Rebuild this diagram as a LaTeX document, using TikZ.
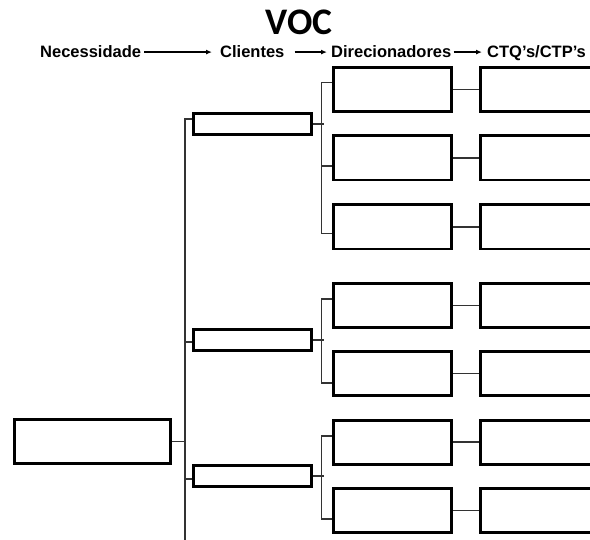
\documentclass[tikz,border=0pt]{standalone}
\usepackage{fontspec}
\setmainfont{Liberation Sans}
\newfontfamily\titlefont{Carlito}
\usetikzlibrary{arrows.meta,positioning,calc}

\begin{document}
\begin{tikzpicture}[x=1pt,y=-1pt,
    caixa/.style={draw,line width=2.7pt,inner sep=0pt,minimum height=44.3pt},
    liga/.style={draw=black!80,line width=1.3pt},
    seta/.style={line width=1.2pt,-{Latex[length=6pt,width=5pt]}},
    cabec/.style={font=\bfseries\fontsize{16.5}{18}\selectfont,inner sep=0pt,anchor=base west}]
  \useasboundingbox (0,0) rectangle (590,540);
  \clip (0,0) rectangle (590,540);

  % Titulo
  \node[font=\titlefont\bfseries\fontsize{37.5}{40}\selectfont,anchor=base,inner sep=0pt] (voc) at (299,35) {VOC};

  % Cabecalho
  \node[cabec] (nec) at (40,58) {Necessidade};
  \node[cabec] (cli) at (220,58) {Clientes};
  \node[cabec] (dir) at (331,58) {Direcionadores};
  \node[cabec] (ctq) at (487,58) {CTQ's/CTP's};
  \draw[seta,shorten <=3pt,shorten >=8pt] (nec.east) -- (cli.west);
  \draw[seta,shorten <=10pt,shorten >=4pt] (cli.east) -- (dir.west);
  \draw[seta,shorten <=2pt,shorten >=5pt] (dir.east) -- (dir.east -| ctq.west);

  % Necessidade
  \node[caixa,minimum width=156.3pt] (raiz) at (92.5,441.5) {};

  % Clientes
  \foreach \n/\y in {1/124,2/340,3/476}
    \node[caixa,minimum width=118.3pt,minimum height=21.3pt] (c\n) at (252.5,\y) {};

  % Direcionadores e CTQ's
  \foreach \n/\y in {11/89.5,12/158,13/227,21/305.5,22/373.5,31/442.5,32/510.5} {
    \node[caixa,minimum width=118.3pt] (d\n) at (392.5,\y) {};
    \node[caixa,minimum width=140pt,anchor=west] (q\n) at (479.35,\y) {};
    \draw[liga] (d\n.east) -- (q\n.west);
  }
  \draw[liga,line width=2pt] (d31.east) -- (q31.west);

  % Ligacoes
  \coordinate (base) at (185,540);
  \draw[liga] (raiz.east) -- (raiz.east -| base);
  \draw[liga] ([yshift=5pt]c1.west) -| (base);
  \draw[liga] ([yshift=-2pt]c2.west) -- ([yshift=-2pt]c2.west -| base);
  \draw[liga] ([yshift=-3pt]c3.west) -- ([yshift=-3pt]c3.west -| base);
  \foreach \g in {1,2,3}
    \draw[liga] (c\g.east) -- ++(11.35,0);
  \draw[liga] ([yshift=7pt]d11.west) -- ++(-10.35,0) |- ([yshift=-6.5pt]d13.west);
  \draw[liga] ([yshift=-8pt]d12.west) -- ++(-10.35,0);
  \draw[liga] ([yshift=6.5pt]d21.west) -- ++(-10.35,0) |- ([yshift=-9.5pt]d22.west);
  \draw[liga] ([yshift=6.5pt]d31.west) -- ++(-10.35,0) |- ([yshift=-8.5pt]d32.west);
\end{tikzpicture}
\end{document}
